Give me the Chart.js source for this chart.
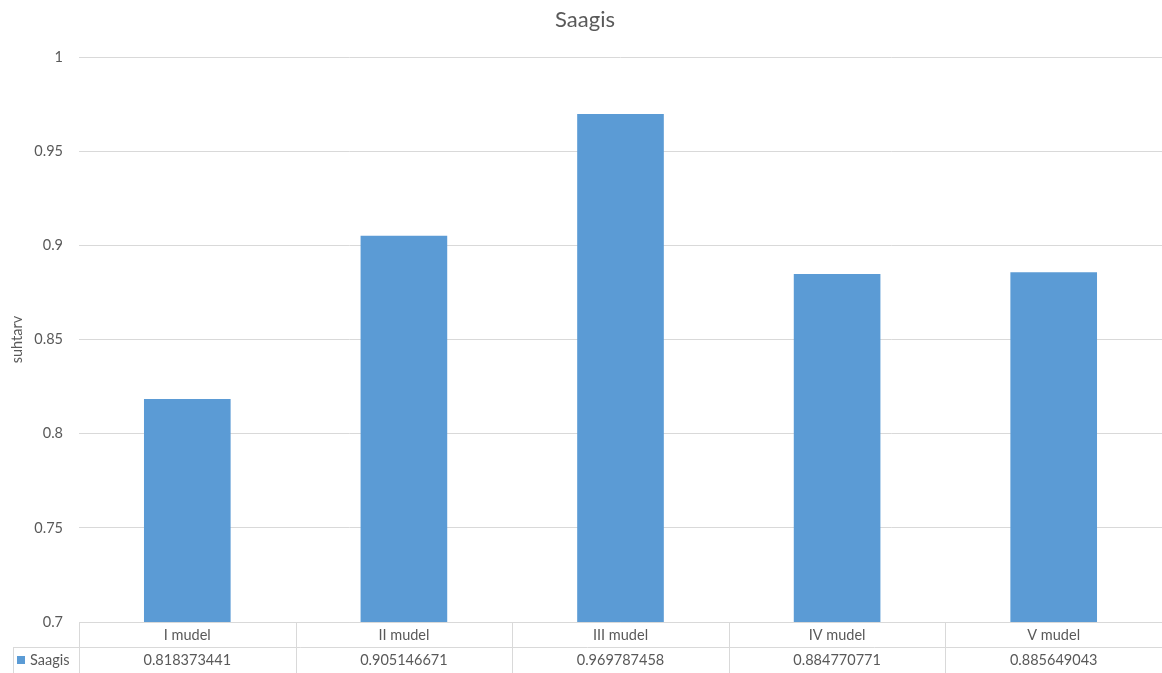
<!DOCTYPE html>
<html>
<head>
<meta charset="utf-8">
<title>Saagis</title>
<script src="https://cdn.jsdelivr.net/npm/chart.js@4.4.1/dist/chart.umd.min.js"></script>
<style>
  html, body { margin: 0; padding: 0; background: #fff; }
  #wrap { width: 1162px; height: 673px; position: relative; }
</style>
</head>
<body>
<div id="wrap"><canvas id="saagisChart"></canvas></div>
<script>
// andmed
const mudelid = ['I mudel', 'II mudel', 'III mudel', 'IV mudel', 'V mudel'];
const saagis = [0.818373441, 0.905146671, 0.969787458, 0.884770771, 0.885649043];
const yTicks = [0.7, 0.75, 0.8, 0.85, 0.9, 0.95, 1];

const FONT = 'Lato, "Open Sans", sans-serif';
const TEXT = '#595959';
const GRID = '#d9d9d9';
const BAR = '#5b9bd5';

// pealkiri ja andmetabel graafiku all
const tablePlugin = {
    id: 'dataTable',
    afterDraw(chart) {
        const ctx = chart.ctx;
        const area = chart.chartArea;
        const x = chart.scales.x;
        const rowH = 25;
        const top = area.bottom;
        const mid = top + rowH;
        const bottom = mid + rowH + 2;
        const legendLeft = 13;

        ctx.save();
        // pealkiri
        ctx.fillStyle = TEXT;
        ctx.font = '22px ' + FONT;
        ctx.textAlign = 'center';
        ctx.textBaseline = 'middle';
        ctx.fillText('Saagis', 585, 20);

        // tabeli jooned
        ctx.strokeStyle = GRID;
        ctx.lineWidth = 1;
        ctx.beginPath();
        ctx.moveTo(area.left, top + 0.5);
        ctx.lineTo(area.right, top + 0.5);
        ctx.moveTo(legendLeft, mid + 0.5);
        ctx.lineTo(area.right, mid + 0.5);
        ctx.moveTo(legendLeft + 0.5, mid);
        ctx.lineTo(legendLeft + 0.5, bottom);
        const step = (area.right - area.left) / mudelid.length;
        for (let i = 0; i <= mudelid.length; i++) {
            const lx = Math.round(area.left + step * i) + 0.5;
            ctx.moveTo(lx, top);
            ctx.lineTo(lx, bottom);
        }
        ctx.stroke();

        // kategooriad ja väärtused
        ctx.fillStyle = TEXT;
        ctx.font = '14.5px ' + FONT;
        mudelid.forEach((m, i) => {
            const cx = x.getPixelForValue(i);
            ctx.fillText(m, cx, top + rowH / 2 + 1);
            ctx.fillText(String(saagis[i]), cx, mid + rowH / 2 + 1);
        });

        // legendi võti
        ctx.fillStyle = BAR;
        ctx.fillRect(legendLeft + 4, mid + 9, 8, 8);
        ctx.fillStyle = TEXT;
        ctx.textAlign = 'left';
        ctx.fillText('Saagis', legendLeft + 17, mid + rowH / 2 + 1);
        ctx.restore();
    }
};

const ctx = document.getElementById('saagisChart').getContext('2d');
new Chart(ctx, {
    type: 'bar',
    data: {
        labels: mudelid,
        datasets: [{
            label: 'Saagis',
            data: saagis,
            backgroundColor: BAR,
            borderWidth: 0,
            barPercentage: 0.4,
            categoryPercentage: 1
        }]
    },
    options: {
        responsive: true,
        maintainAspectRatio: false,
        animation: false,
        layout: { padding: { top: 57, bottom: 51, left: 0, right: 0 } },
        plugins: {
            legend: { display: false },
            title: { display: false },
            tooltip: { enabled: false }
        },
        scales: {
            x: {
                display: false,
                grid: { display: false }
            },
            y: {
                min: 0.7,
                max: 1,
                afterFit: scale => { scale.width = 79; },
                afterBuildTicks: scale => {
                    scale.ticks = yTicks.map(v => ({ value: v }));
                },
                ticks: {
                    color: TEXT,
                    font: { family: FONT, size: 14.5 },
                    padding: 16,
                    callback: v => String(+Number(v).toFixed(2))
                },
                grid: { color: GRID, drawTicks: false },
                border: { display: false },
                title: {
                    display: true,
                    text: 'suhtarv',
                    color: TEXT,
                    font: { family: FONT, size: 14.5 },
                    padding: { top: 9, bottom: 0 }
                }
            }
        }
    },
    plugins: [tablePlugin]
});
</script>
</body>
</html>
